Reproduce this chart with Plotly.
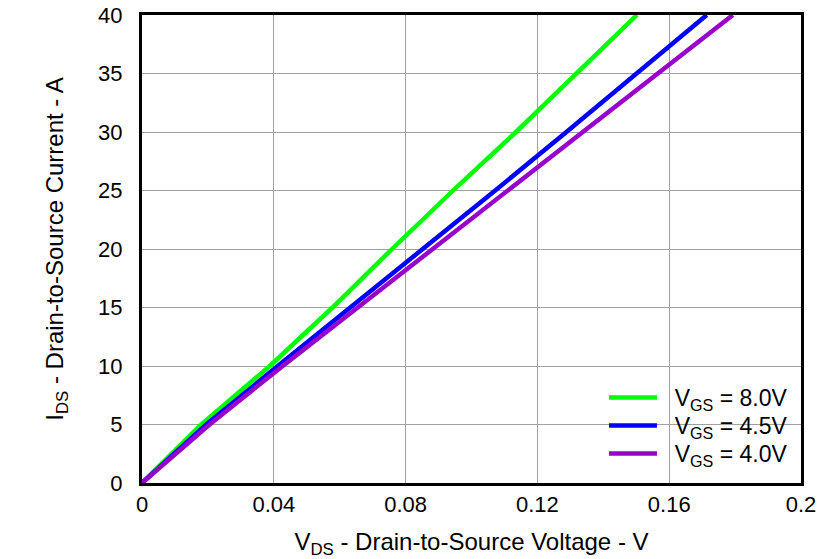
import plotly.graph_objects as go

# Data
i_ds = [0, 5, 10, 15, 20, 25, 30, 35, 40]
v_ds_8v0 = [0, 0.0180, 0.0388, 0.0578, 0.0759, 0.0944, 0.1135, 0.1317, 0.1502]
v_ds_4v5 = [0, 0.0195, 0.0412, 0.0633, 0.0852, 0.1072, 0.1288, 0.1502, 0.1714]
v_ds_4v0 = [0, 0.0205, 0.0427, 0.0654, 0.0881, 0.1109, 0.1336, 0.1564, 0.1793]

series_names = ["&nbsp;&nbsp;V<sub>GS</sub> = 8.0V",
                "&nbsp;&nbsp;V<sub>GS</sub> = 4.5V",
                "&nbsp;&nbsp;V<sub>GS</sub> = 4.0V"]
series_colors = ["#00FF00", "#0000FF", "#9900CC"]
legend_ids = ["legend", "legend2", "legend3"]
legend_y = [0.2286, 0.1688, 0.109]

x_ticks = [0, 0.04, 0.08, 0.12, 0.16, 0.2]
x_tick_labels = ["0", "0.04", "0.08", "0.12", "0.16", "0.2"]
y_ticks = [0, 5, 10, 15, 20, 25, 30, 35, 40]

FONT = "Liberation Sans, Arial, sans-serif"

fig = go.Figure()
for v, name, color, lid in zip([v_ds_8v0, v_ds_4v5, v_ds_4v0], series_names,
                               series_colors, legend_ids):
    fig.add_trace(go.Scatter(x=v, y=i_ds, mode="lines", name=name, legend=lid,
                             line=dict(color=color, width=4.5)))

axis_common = dict(
    showgrid=True, gridcolor="#A0A0A0", gridwidth=1,
    zeroline=False, showline=True, linecolor="black", linewidth=3, mirror=True,
    ticks="", automargin=False, ticklabeloverflow="allow",
    tickfont=dict(family=FONT, size=22, color="black"),
)

legend_common = dict(x=0.701, xanchor="left", yanchor="top",
                     bgcolor="rgba(0,0,0,0)", borderwidth=0,
                     font=dict(family=FONT, size=23, color="black"),
                     tracegroupgap=0, itemwidth=48)

layout_legends = {lid: dict(y=ly, **legend_common) for lid, ly in zip(legend_ids, legend_y)}

fig.update_layout(
    width=839, height=559,
    margin=dict(l=142, r=38, t=15, b=76),
    paper_bgcolor="white", plot_bgcolor="white",
    font=dict(family=FONT, size=22, color="black"),
    xaxis=dict(range=[0, 0.2], tickvals=x_ticks, ticktext=x_tick_labels,
               ticklabelstandoff=0,
               title=dict(text="V<sub>DS</sub> - Drain-to-Source Voltage - V",
                          font=dict(family=FONT, size=24), standoff=18),
               **axis_common),
    yaxis=dict(range=[0, 40], tickvals=y_ticks, ticklabelstandoff=12,
               title=dict(text="I<sub>DS</sub> - Drain-to-Source Current - A",
                          font=dict(family=FONT, size=24), standoff=28),
               **axis_common),
    showlegend=True,
    **layout_legends,
)

fig.write_html("out.html",
               config={"displayModeBar": False},
               post_script="document.body.style.margin='0';document.body.style.padding='0';")
